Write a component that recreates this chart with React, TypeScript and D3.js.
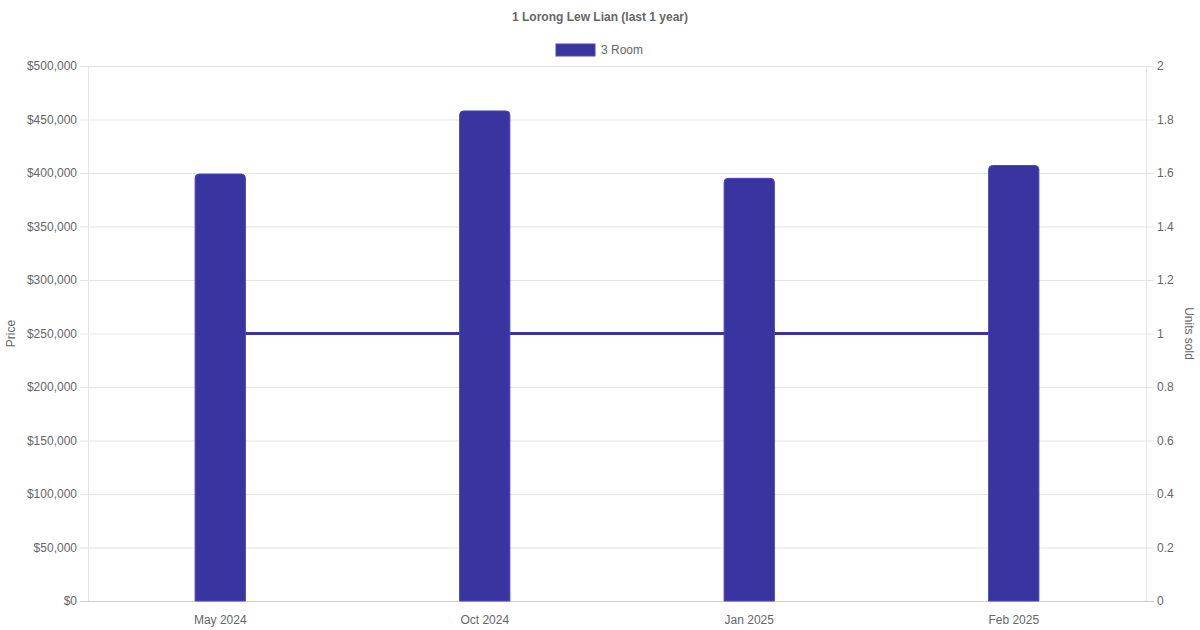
import React from 'react';
import * as d3 from 'd3';

const months = ['May 2024', 'Oct 2024', 'Jan 2025', 'Feb 2025'];
const prices = [399000, 458000, 395000, 407000];
const unitsSold = [1, 1, 1, 1];
const priceTicks = [0, 50000, 100000, 150000, 200000, 250000, 300000, 350000, 400000, 450000, 500000];
const unitTicks = [0, 0.2, 0.4, 0.6, 0.8, 1, 1.2, 1.4, 1.6, 1.8, 2];

const W = 1200;
const H = 630;
const FONT = '"Liberation Sans", Arial, Helvetica, sans-serif';
const BLUE = '#3934a0';
const TXT = '#666';
const GRID = '#e5e5e5';

export default function App() {
  const left = 88, right = 1146, top = 66, bottom = 601;
  const x = d3.scaleBand<string>().domain(months).range([left, right]).padding(0);
  const y = d3.scaleLinear().domain([0, 500000]).range([bottom, top]);
  const y2 = d3.scaleLinear().domain([0, 2]).range([bottom, top]);
  const barW = x.bandwidth() * 0.19;
  const fmt = (v: number) => '$' + d3.format(',')(v);
  const line = d3.line<number>()
    .x((_, i) => x(months[i])! + x.bandwidth() / 2)
    .y(d => y2(d));
  const r = 4;
  const barPath = (x0: number, y0: number, w: number, h: number) =>
    `M${x0},${y0 + h}V${y0 + r}Q${x0},${y0} ${x0 + r},${y0}H${x0 + w - r}Q${x0 + w},${y0} ${x0 + w},${y0 + r}V${y0 + h}Z`;

  return (
    <svg width={W} height={H} style={{ position: 'absolute', left: 0, top: 0, fontFamily: FONT }}>
      <rect width={W} height={H} fill="#fff" />
      <text x={600} y={21} textAnchor="middle" fontSize={12} fontWeight="bold" fill={TXT}>1 Lorong Lew Lian (last 1 year)</text>
      <rect x={556} y={44} width={39} height={12} fill={BLUE} stroke="#4a46b8" strokeWidth={1} />
      <text x={601} y={54} fontSize={12} fill={TXT}>3 Room</text>

      {priceTicks.map(t => (
        <g key={t}>
          <line x1={left - 8} x2={right + 8} y1={y(t) + 0.5} y2={y(t) + 0.5} stroke={t === 0 ? '#ccc' : GRID} />
          <text x={left - 11} y={y(t) + 4} textAnchor="end" fontSize={12} fill={TXT}>{fmt(t)}</text>
        </g>
      ))}
      {unitTicks.map(t => (
        <text key={t} x={right + 11} y={y2(t) + 4} fontSize={12} fill={TXT}>{d3.format('~g')(t)}</text>
      ))}
      <line x1={left + 0.5} x2={left + 0.5} y1={top} y2={bottom} stroke={GRID} />
      <line x1={right + 0.5} x2={right + 0.5} y1={top} y2={bottom} stroke={GRID} />

      <path d={line(unitsSold) ?? ''} fill="none" stroke={BLUE} strokeWidth={3} />
      {prices.map((p, i) => {
        const cx = x(months[i])! + x.bandwidth() / 2;
        return <path key={i} d={barPath(cx - barW / 2, y(p), barW, bottom - y(p))} fill={BLUE} stroke="#4a46b8" strokeWidth={1} />;
      })}

      {months.map(m => (
        <text key={m} x={x(m)! + x.bandwidth() / 2} y={624} textAnchor="middle" fontSize={12} fill={TXT}>{m}</text>
      ))}

      <text transform={`translate(15,${(top + bottom) / 2}) rotate(-90)`} textAnchor="middle" fontSize={12} fill={TXT}>Price</text>
      <text transform={`translate(1185,${(top + bottom) / 2}) rotate(90)`} textAnchor="middle" fontSize={12} fill={TXT}>Units sold</text>
    </svg>
  );
}
